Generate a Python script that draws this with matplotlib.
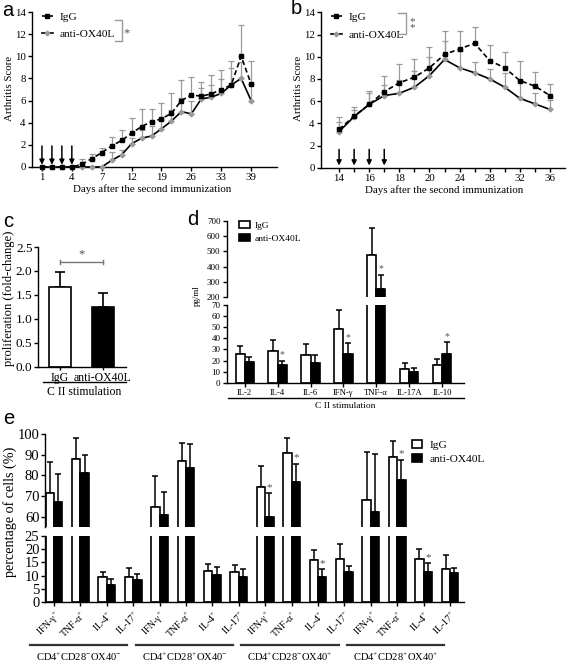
import numpy as np
import matplotlib
matplotlib.use('Agg')
import matplotlib.pyplot as plt
from matplotlib.lines import Line2D

W, H = 567, 663

# ---- panel a: arthritis score (equally spaced time points)
a_ticklabels = ['1', '4', '7', '12', '19', '26', '33', '39']
a_igg = [0, 0, 0, 0, 0.25, 0.75, 1.3, 1.9, 2.4, 3.05, 3.65, 4.1, 4.35, 4.85,
         6.0, 6.5, 6.4, 6.6, 7.0, 7.4, 10.0, 7.5]
a_igg_err = [0, 0, 0, 0, 0.45, 0.45, 0.4, 0.8, 0.9, 1.35, 1.55, 1.15, 1.4, 1.8,
             1.85, 1.6, 1.3, 1.7, 1.8, 2.2, 2.8, 2.1]
a_anti = [0, 0, 0, 0, 0, 0, 0, 0.6, 1.1, 2.1, 2.6, 2.8, 3.45, 4.15,
          5.0, 4.8, 6.15, 6.3, 6.65, 7.4, 8.0, 6.0]
a_anti_err = [0, 0, 0, 0, 0, 0, 0, 0.8, 0.45, 0.5, 0.7, 0.9, 0.8, 1.0,
              1.2, 1.2, 1.0, 1.1, 1.3, 1.5, 1.5, 1.5]
a_inject = [0, 1, 2, 3]

# ---- panel b
b_days = [14, 15, 16, 17, 18, 19, 20, 22, 24, 26, 28, 30, 32, 34, 36]
b_igg = [3.45, 4.65, 5.7, 6.85, 7.65, 8.15, 9.0, 10.2, 10.7, 11.2, 9.65, 9.0, 7.85, 7.35, 6.5]
b_igg_err = [1.08, 0.85, 1.2, 1.45, 1.65, 1.6, 1.85, 2.1, 1.6, 1.45, 1.4, 1.4, 1.8, 1.25, 1.05]
b_anti = [3.25, 4.6, 5.7, 6.5, 6.7, 7.25, 8.3, 9.75, 9.0, 8.55, 8.0, 7.25, 6.25, 5.75, 5.25]
b_anti_err = [0.9, 0.6, 1.0, 0.95, 1.2, 1.5, 1.7, 1.7, 1.5, 1.0, 0.9, 1.25, 1.65, 1.0, 0.85]
b_inject = [0, 1, 2, 3]

# ---- panel c
c_groups = ['IgG', 'anti-OX40L']
c_means = [1.67, 1.25]
c_err = [0.30, 0.29]

# ---- panel d
d_cats = ['IL-2', 'IL-4', 'IL-6', 'IFN-γ', 'TNF-α', 'IL-17A', 'IL-10']
d_igg = [25.8, 28.2, 25.2, 48.3, 478, 12.6, 15.6]
d_igg_err = [7.2, 9.9, 9.3, 16.9, 176, 4.8, 5.4]
d_anti = [18.9, 15.9, 18.0, 25.5, 254, 9.3, 26.1]
d_anti_err = [3.9, 3.6, 7.2, 9.9, 89, 4.2, 10.2]
d_sig = [1, 3, 4, 6]

# ---- panel e
e_cyto = ['IFN-γ', 'TNF-α', 'IL-4', 'IL-17']
e_groups = ['CD4$^{+}$CD28$^{-}$OX40$^{-}$', 'CD4$^{+}$CD28$^{+}$OX40$^{-}$',
            'CD4$^{+}$CD28$^{-}$OX40$^{+}$', 'CD4$^{+}$CD28$^{+}$OX40$^{+}$']
e_igg = [71.3, 87.8, 9.4, 9.3, 64.5, 87.2, 11.9, 11.2,
         74.2, 90.9, 16.1, 16.4, 68.2, 89.1, 16.4, 12.3]
e_igg_err = [15.1, 10.2, 1.9, 3.6, 15.4, 8.4, 2.6, 2.9,
             10.2, 7.5, 3.6, 5.6, 23.0, 7.7, 3.9, 5.6]
e_anti = [66.9, 81.0, 6.3, 8.2, 60.9, 83.8, 10.2, 9.5,
          59.6, 77.0, 9.3, 11.3, 62.2, 77.6, 11.4, 10.9]
e_anti_err = [13.8, 9.1, 2.2, 2.5, 11.2, 11.7, 3.1, 3.1,
              11.7, 8.6, 3.0, 2.5, 28.4, 9.9, 3.3, 2.0]
e_sig = [8, 9, 10, 13, 14]

plt.rcParams['font.family'] = ['Liberation Serif', 'DejaVu Serif']
plt.rcParams['mathtext.fontset'] = 'custom'
plt.rcParams['mathtext.rm'] = 'Liberation Serif'
plt.rcParams['axes.linewidth'] = 1.0
for k in ['xtick', 'ytick']:
    plt.rcParams[k + '.major.width'] = 1.0
    plt.rcParams[k + '.major.size'] = 3
    plt.rcParams[k + '.major.pad'] = 1.5

GREY = '#9a9a9a'
fig = plt.figure(figsize=(W / 100, H / 100), dpi=100)


def add_ax(x0, y0, x1, y1):
    ax = fig.add_axes([x0 / W, 1 - y1 / H, (x1 - x0) / W, (y1 - y0) / H])
    ax.spines[['top', 'right']].set_visible(False)
    return ax


def fline(xs, ys, **kw):
    fig.add_artist(Line2D([x / W for x in xs], [1 - y / H for y in ys], **kw))


def ftext(x, y, s, **kw):
    fig.text(x / W, 1 - y / H, s, **kw)


def letter(x, y, s):
    ftext(x, y, s, family='Liberation Sans', fontsize=14.5, ha='center', va='center')


def line_panel(ax, igg, igg_err, anti, anti_err, inject, arrow_top):
    x = np.arange(len(igg))
    z = np.zeros(len(igg))
    ax.errorbar(x, igg, yerr=[z, igg_err], fmt='none', ecolor=GREY, elinewidth=0.9,
                capsize=2, capthick=0.9, zorder=2)
    ax.errorbar(x, anti, yerr=[z, anti_err], fmt='none', ecolor=GREY, elinewidth=0.9,
                capsize=2, capthick=0.9, zorder=2)
    ax.plot(x, igg, color='k', lw=1.2, dashes=(3, 1.8), marker='s', ms=3.2,
            label='IgG', clip_on=False, zorder=4)
    ax.plot(x, anti, color='k', lw=1.2, marker='D', ms=2.4, mfc=GREY, mec=GREY,
            label='anti-OX40L', clip_on=False, zorder=3)
    for i in inject:
        ax.annotate('', xy=(i, 0.2), xytext=(i, arrow_top),
                    arrowprops=dict(arrowstyle='-|>', color='k', lw=1.1,
                                    mutation_scale=7, shrinkA=0, shrinkB=0))
    ax.set_ylim(0, 14)
    ax.set_yticks(range(0, 15, 2))
    ax.tick_params(labelsize=7.8)
    ax.legend(loc='upper left', frameon=False, fontsize=8.2, handlelength=1.0,
              handletextpad=0.6, labelspacing=0.65, borderpad=0, borderaxespad=0,
              bbox_to_anchor=(0.04, 1.0))


# ---------- a
ax = add_ax(32, 12, 277, 167)
line_panel(ax, a_igg, a_igg_err, a_anti, a_anti_err, a_inject, 1.9)
ax.set_xlim(-1, 23.6)
ax.set_xticks(range(0, len(a_igg), 3))
ax.set_xticklabels(a_ticklabels)
ftext(152, 189, 'Days after the second immunization', fontsize=7.8, ha='center', va='center')
ftext(9.5, 88, 'Arthritis Score', fontsize=7.8, rotation=90, ha='center', va='center')
fline([115, 121.5, 121.5, 115], [20, 20, 41, 41], color=GREY, lw=1)
ftext(127, 33, '*', fontsize=9, ha='center', va='center', color='#555555')
letter(8, 11, 'a')

# ---------- b
ax = add_ax(321, 12.3, 565, 167.7)
line_panel(ax, b_igg, b_igg_err, b_anti, b_anti_err, b_inject, 1.65)
ax.set_xlim(-1.2, 15)
ax.set_xticks(range(len(b_days)))
ax.set_xticklabels([str(d) if i % 2 == 0 else '' for i, d in enumerate(b_days)])
ftext(444, 190, 'Days after the second immunization', fontsize=7.8, ha='center', va='center')
ftext(298.5, 88, 'Arthritis Score', fontsize=7.8, rotation=90, ha='center', va='center')
fline([398, 406, 406, 398], [13, 13, 33.5, 33.5], color=GREY, lw=1)
ftext(412.5, 25, '*\n*', fontsize=8, ha='center', va='center', color='#555555', linespacing=0.55)
letter(296, 9, 'b')

# ---------- c
ax = add_ax(38, 247, 125.7, 366.7)
xc = np.arange(len(c_groups))
ax.bar(xc, c_means, width=0.51, color=['white', 'black'], edgecolor='black', linewidth=1.2, zorder=2)
ax.errorbar(xc, c_means, yerr=[[0, 0], c_err], fmt='none', ecolor='k', elinewidth=1.2,
            capsize=3.5, capthick=1.2, zorder=1)
ax.plot([0, 1], [2.18, 2.18], color='#777777', lw=1)
ax.plot([0, 0], [2.14, 2.22], color='#777777', lw=1)
ax.plot([1, 1], [2.14, 2.22], color='#777777', lw=1)
ax.text(0.5, 2.22, '*', ha='center', va='bottom', fontsize=9, color='#555555')
ax.set_xlim(-0.51, 1.54)
ax.set_ylim(0, 2.5)
ax.set_yticks(np.arange(0, 2.51, 0.5))
ax.set_yticklabels(['%.1f' % v for v in np.arange(0, 2.51, 0.5)])
ax.set_xticks(xc)
ax.set_xticklabels(c_groups)
ax.tick_params(axis='y', labelsize=9.5, pad=1)
ax.tick_params(axis='x', labelsize=8.5, length=2)
fline([43, 126], [382.5, 382.5], color='k', lw=1)
ftext(84, 392, 'C II stimulation', fontsize=8.5, ha='center', va='center')
ftext(9, 298, 'proliferation (fold-change)', fontsize=9.1, rotation=90, ha='center', va='center')
letter(8, 222, 'c')

# ---------- d (broken axis)
axl = add_ax(226.7, 305, 464, 382.7)
axu = add_ax(226.7, 220.7, 464, 297.3)
xd = np.arange(len(d_cats))
bw = 0.28
for a_ in (axl, axu):
    a_.bar(xd - bw / 2, d_igg, width=bw, color='white', edgecolor='black', linewidth=1.2,
           label='IgG', zorder=2)
    a_.bar(xd + bw / 2, d_anti, width=bw, color='black', edgecolor='black', linewidth=1.2,
           label='anti-OX40L', zorder=2)
    a_.errorbar(xd - bw / 2, d_igg, yerr=[np.zeros(len(xd)), d_igg_err], fmt='none',
                ecolor='k', elinewidth=1.1, capsize=2.2, capthick=1.1, zorder=1)
    a_.errorbar(xd + bw / 2, d_anti, yerr=[np.zeros(len(xd)), d_anti_err], fmt='none',
                ecolor='k', elinewidth=1.1, capsize=2.2, capthick=1.1, zorder=1)
    a_.set_xlim(-0.55, 6.67)
    a_.tick_params(labelsize=6.5)
axl.set_ylim(0, 70)
axl.set_yticks(range(0, 71, 10))
axu.set_ylim(200, 700)
axu.set_yticks(range(200, 701, 100))
axu.spines['bottom'].set_visible(False)
axu.set_xticks([])
axl.set_xticks(xd)
axl.set_xticklabels(d_cats, fontsize=6.2)
for i in d_sig:
    top = d_anti[i] + d_anti_err[i]
    a_ = axu if top > 70 else axl
    off = 12 if top > 70 else 1.5
    a_.text(xd[i] + bw / 2, top + off, '*', ha='center', va='bottom', fontsize=7, color='#555555')
axu.legend(loc='upper left', frameon=False, fontsize=6.8, handlelength=1.2, handleheight=0.7,
           handletextpad=0.5, labelspacing=0.45, borderpad=0, borderaxespad=0,
           bbox_to_anchor=(0.052, 0.99))
fline([228, 464], [398, 398], color='k', lw=1)
ftext(345, 405.5, 'C II stimulation', fontsize=6.8, ha='center', va='center')
ftext(196.5, 296, 'pg/ml', fontsize=6.5, rotation=90, ha='center', va='center')
letter(193, 220, 'd')

# ---------- e (broken axis)
axl = add_ax(45, 536.2, 464, 601.7)
axu = add_ax(45, 434.3, 464, 526.8)
xe = np.arange(len(e_igg))
bw = 0.32
for a_ in (axl, axu):
    a_.bar(xe - bw / 2, e_igg, width=bw, color='white', edgecolor='black', linewidth=1.2,
           label='IgG', zorder=2)
    a_.bar(xe + bw / 2, e_anti, width=bw, color='black', edgecolor='black', linewidth=1.2,
           label='anti-OX40L', zorder=2)
    a_.errorbar(xe - bw / 2, e_igg, yerr=[np.zeros(len(xe)), e_igg_err], fmt='none',
                ecolor='k', elinewidth=1.1, capsize=2.3, capthick=1.1, zorder=1)
    a_.errorbar(xe + bw / 2, e_anti, yerr=[np.zeros(len(xe)), e_anti_err], fmt='none',
                ecolor='k', elinewidth=1.1, capsize=2.3, capthick=1.1, zorder=1)
    a_.set_xlim(-0.34, 15.53)
    a_.tick_params(axis='y', labelsize=10.5, pad=1)
axl.set_ylim(0, 25)
axl.set_yticks(range(0, 26, 5))
axu.set_ylim(55, 100)
axu.set_yticks(range(60, 101, 10))
axu.spines['bottom'].set_visible(False)
axu.set_xticks([])
axl.set_xticks(xe)
axl.set_xticklabels([c + '$^{+}$' for c in e_cyto] * len(e_groups), fontsize=7,
                    rotation=45, ha='right', va='top', rotation_mode='anchor')
axl.tick_params(axis='x', pad=2)
for i in e_sig:
    top = e_anti[i] + e_anti_err[i]
    a_ = axu if top > 25 else axl
    off = 0.8 if top > 25 else 0.4
    a_.text(xe[i] + bw / 2, top + off, '*', ha='center', va='bottom', fontsize=8, color='#555555')
axu.legend(loc='upper left', frameon=False, fontsize=8.2, handlelength=0.95, handleheight=0.75,
           handletextpad=0.6, labelspacing=0.35, borderpad=0, borderaxespad=0,
           bbox_to_anchor=(0.875, 0.94))
for g, name in enumerate(e_groups):
    x0 = 45 + (4 * g - 0.9 + 0.34) * 26.4
    x1 = 45 + (4 * g + 2.78 + 0.34) * 26.4
    fline([x0, x1], [645, 645], color='#333333', lw=1.6)
    ftext((x0 + x1) / 2, 656.5, name, fontsize=7.6, ha='center', va='center')
ftext(10.5, 512, 'percentage of cells (%)', fontsize=10.2, rotation=90, ha='center', va='center')
letter(9, 418, 'e')

fig.savefig('out.png', dpi=100)
